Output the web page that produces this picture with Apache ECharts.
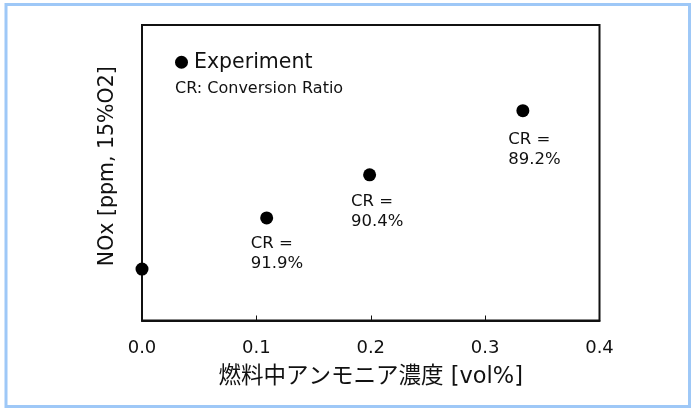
<!DOCTYPE html>
<html>
<head>
<meta charset="utf-8">
<script src="https://cdn.jsdelivr.net/npm/echarts@6/dist/echarts.min.js"></script>
<style>
  html, body { margin: 0; padding: 0; background: #fff; }
  #chart { width: 695px; height: 408px; }
</style>
</head>
<body>
<div id="chart"></div>
<script>
// Ammonia concentration in fuel [vol%]
const ammoniaConc = [0, 0.109, 0.199, 0.333];
// NOx emission (relative scale, no tick values on this axis)
const noxLevel = [17.4, 34.7, 49.3, 71.0];
// Conversion ratio annotated beside each measured point
const conversionRatio = ['', '91.9%', '90.4%', '89.2%'];
// x axis tick values
const xTicks = [0.0, 0.1, 0.2, 0.3, 0.4];

// label placement next to each dot (relative to marker box)
const labelShift = [[0, 0], [-9.5, 22.2], [-12.1, 23.8], [-8.2, 25.5]];

const FONT = '"DejaVu Sans", "Noto Sans CJK JP", sans-serif';
const INK = '#111';

const chart = echarts.init(document.getElementById('chart'), null, { renderer: 'canvas' });

const points = ammoniaConc.map((x, i) => {
  const item = { value: [x, noxLevel[i]] };
  if (conversionRatio[i]) {
    item.label = {
      show: true,
      position: labelShift[i],
      formatter: 'CR =\n' + conversionRatio[i]
    };
  }
  return item;
});

chart.setOption({
  animation: false,
  backgroundColor: '#fff',
  grid: {
    left: 142, right: 95.5, top: 25, bottom: 87.5,
    show: true, borderColor: INK, borderWidth: 2, backgroundColor: 'transparent'
  },
  xAxis: {
    type: 'value',
    min: xTicks[0], max: xTicks[xTicks.length - 1], interval: 0.1,
    name: '燃料中アンモニア濃度 [vol%]',
    nameLocation: 'middle', nameGap: 45,
    nameTextStyle: { fontFamily: FONT, fontSize: 22.5, color: INK },
    axisLine: { show: true, lineStyle: { color: INK, width: 2 } },
    axisTick: { show: true, inside: true, length: 5, lineStyle: { color: INK, width: 1 } },
    axisLabel: {
      margin: 19, fontFamily: FONT, fontSize: 18, color: INK,
      formatter: v => v.toFixed(1)
    },
    splitLine: { show: false }
  },
  yAxis: {
    type: 'value', min: 0, max: 100,
    name: 'NOx [ppm, 15%O2]',
    nameLocation: 'middle', nameGap: 24, nameRotate: 90,
    nameTextStyle: { fontFamily: FONT, fontSize: 20.5, color: INK, padding: [0, 0, 0, 13] },
    axisLine: { show: true, lineStyle: { color: INK, width: 2 } },
    axisTick: { show: false },
    axisLabel: { show: false },
    splitLine: { show: false }
  },
  legend: {
    left: 175, top: 52, padding: 0,
    itemWidth: 13, itemHeight: 13,
    icon: 'circle',
    data: ['Experiment'],
    itemStyle: { color: '#000', opacity: 1 },
    textStyle: { fontFamily: FONT, fontSize: 20.5, color: INK, padding: [0, 0, 0, 1] }
  },
  graphic: [
    {
      type: 'rect', silent: true, z: 100,
      shape: { x: 6, y: 4.5, width: 683.5, height: 402 },
      style: { fill: 'none', stroke: '#9ec8f7', lineWidth: 3 }
    },
    {
      type: 'text', left: 175, top: 81, silent: true,
      style: { text: 'CR: Conversion Ratio', font: '16px ' + FONT, fill: INK }
    }
  ],
  series: [{
    name: 'Experiment',
    type: 'scatter',
    symbol: 'circle',
    symbolSize: 13,
    clip: false,
    itemStyle: { color: '#000', opacity: 1 },
    label: {
      color: INK, fontFamily: FONT, fontSize: 16.5, lineHeight: 20, align: 'left'
    },
    emphasis: { disabled: true },
    data: points
  }]
});
</script>
</body>
</html>
